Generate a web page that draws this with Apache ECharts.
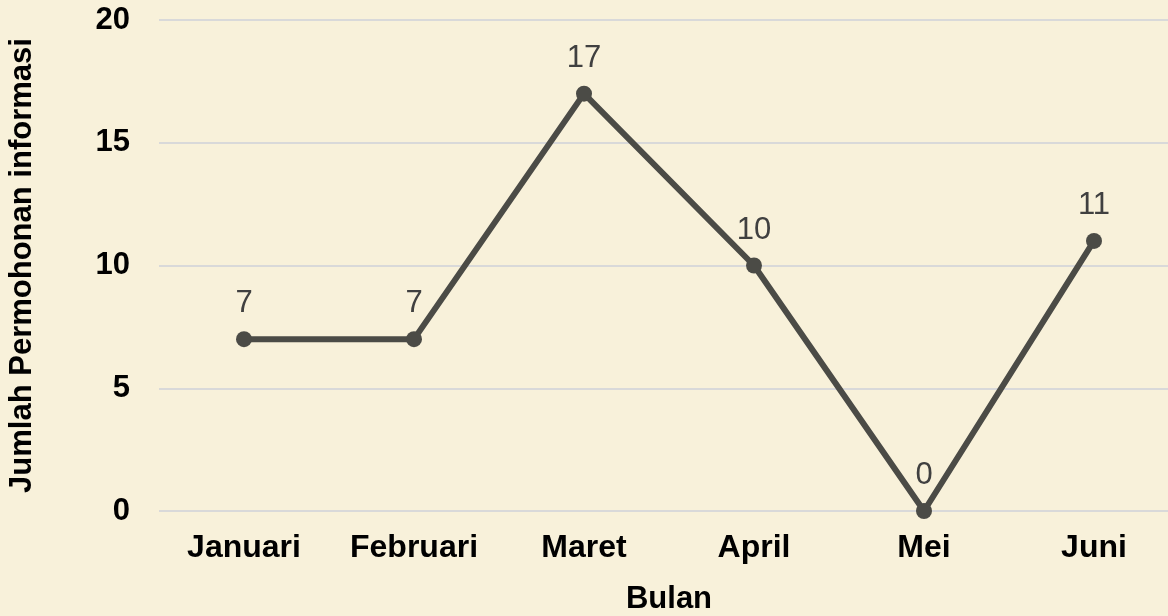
<!DOCTYPE html>
<html>
<head>
<meta charset="utf-8">
<script src="https://cdn.jsdelivr.net/npm/echarts@6/dist/echarts.min.js"></script>
<style>
  html, body { margin: 0; padding: 0; background: #f8f1da; }
  #chart { width: 1168px; height: 616px; }
</style>
</head>
<body>
<div id="chart"></div>
<script>
const months = ['Januari', 'Februari', 'Maret', 'April', 'Mei', 'Juni'];
const requests = [7, 7, 17, 10, 0, 11];
const yTicks = [0, 5, 10, 15, 20];

const chart = echarts.init(document.getElementById('chart'));

const font = 'Liberation Sans, Arial, sans-serif';

chart.setOption({
    backgroundColor: '#f8f1da',
    animation: false,
    grid: {left: 159, right: -11, top: 20, bottom: 105, outerBoundsMode: 'none'},
    xAxis: {
        type: 'category',
        data: months,
        name: 'Bulan',
        nameLocation: 'middle',
        nameGap: 73,
        nameTextStyle: {fontFamily: font, fontSize: 31, fontWeight: 'bold', color: '#000'},
        axisLine: {show: false},
        axisTick: {show: false},
        axisLabel: {fontFamily: font, fontSize: 32, fontWeight: 'bold', color: '#000', margin: 21}
    },
    yAxis: {
        type: 'value',
        min: yTicks[0],
        max: yTicks[yTicks.length - 1],
        interval: 5,
        name: 'Jumlah Permohonan informasi',
        nameLocation: 'middle',
        nameGap: 121,
        nameTextStyle: {fontFamily: font, fontSize: 31, fontWeight: 'bold', color: '#000'},
        axisLine: {show: false},
        axisTick: {show: false},
        axisLabel: {fontFamily: font, fontSize: 31, fontWeight: 'bold', color: '#000', margin: 29},
        splitLine: {lineStyle: {color: '#d9d9d9', width: 2}}
    },
    series: [{
        type: 'line',
        data: requests,
        symbol: 'circle',
        symbolSize: 16,
        lineStyle: {color: '#4b4b46', width: 6},
        itemStyle: {color: '#4b4b46'},
        label: {
            show: true,
            position: 'top',
            distance: 12,
            fontFamily: font,
            fontSize: 31,
            color: '#404040'
        }
    }]
});
</script>
</body>
</html>
